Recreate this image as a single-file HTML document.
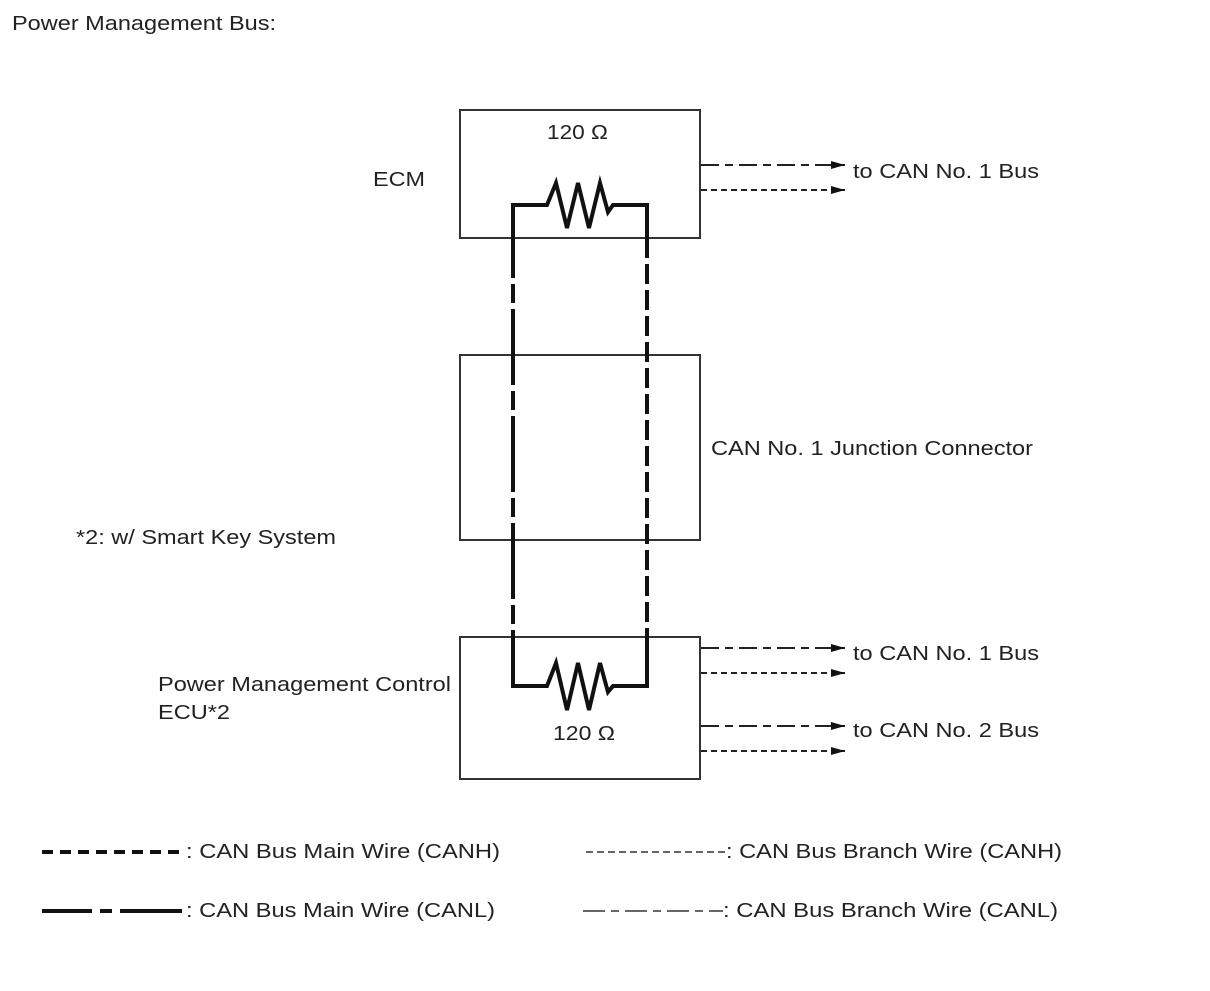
<!DOCTYPE html>
<html><head><style>
body{margin:0;background:#fff;}
svg text{font-family:"Liberation Sans",Arial,sans-serif;font-size:20px;fill:#222;}
</style></head><body>
<svg width="1210" height="986" viewBox="0 0 1210 986" xmlns="http://www.w3.org/2000/svg">
<defs><marker id="a" markerWidth="14" markerHeight="8" refX="14" refY="4" orient="auto" markerUnits="userSpaceOnUse"><path d="M0,0 L14,4 L0,8 Z" fill="#111"/></marker></defs>
<text x="12" y="30" textLength="264" lengthAdjust="spacingAndGlyphs">Power Management Bus:</text>
<g fill="none" stroke="#333" stroke-width="2">
<rect x="460" y="110" width="240" height="128"/>
<rect x="460" y="355" width="240" height="185"/>
<rect x="460" y="637" width="240" height="142"/>
</g>
<text x="547" y="139" textLength="61" lengthAdjust="spacingAndGlyphs">120 Ω</text>
<text x="373" y="186" textLength="52" lengthAdjust="spacingAndGlyphs">ECM</text>
<text x="711" y="455" textLength="322" lengthAdjust="spacingAndGlyphs">CAN No. 1 Junction Connector</text>
<text x="76" y="544" textLength="260" lengthAdjust="spacingAndGlyphs">*2: w/ Smart Key System</text>
<text x="158" y="691" textLength="293" lengthAdjust="spacingAndGlyphs">Power Management Control</text>
<text x="158" y="719" textLength="72" lengthAdjust="spacingAndGlyphs">ECU*2</text>
<text x="553" y="740" textLength="62" lengthAdjust="spacingAndGlyphs">120 Ω</text>
<g fill="none" stroke="#111" stroke-width="4">
<path d="M513,238 V205 H547 L556,183 L567,228 L578,183 L589,228 L600,183 L608,212 L613,205 H647 V238"/>
<path d="M513,637 V686 H547 L556,663 L567,710 L578,663 L589,710 L600,663 L608,692 L613,686 H647 V637"/>
<line x1="513" y1="238" x2="513" y2="637" stroke-dasharray="76 6 19 6" stroke-dashoffset="36"/>
<line x1="647" y1="238" x2="647" y2="637" stroke-dasharray="20 6"/>
</g>
<g stroke="#222" stroke-width="2" fill="none" marker-end="url(#a)">
<line x1="701" y1="165" x2="845" y2="165" stroke-dasharray="18 6 8 6"/>
<line x1="701" y1="190" x2="845" y2="190" stroke-dasharray="6 4"/>
<line x1="701" y1="648" x2="845" y2="648" stroke-dasharray="18 6 8 6"/>
<line x1="701" y1="673" x2="845" y2="673" stroke-dasharray="6 4"/>
<line x1="701" y1="726" x2="845" y2="726" stroke-dasharray="18 6 8 6"/>
<line x1="701" y1="751" x2="845" y2="751" stroke-dasharray="6 4"/>
</g>
<text x="853" y="178" textLength="186" lengthAdjust="spacingAndGlyphs">to CAN No. 1 Bus</text>
<text x="853" y="660" textLength="186" lengthAdjust="spacingAndGlyphs">to CAN No. 1 Bus</text>
<text x="853" y="737" textLength="186" lengthAdjust="spacingAndGlyphs">to CAN No. 2 Bus</text>
<g fill="none" stroke="#111" stroke-width="4">
<line x1="42" y1="852" x2="184" y2="852" stroke-dasharray="11 7"/>
<line x1="42" y1="911" x2="182" y2="911" stroke-dasharray="50 8 12 8 62"/>
</g>
<g fill="none" stroke="#333" stroke-width="1.5">
<line x1="586" y1="852" x2="726" y2="852" stroke-dasharray="7 4"/>
<line x1="583" y1="911" x2="723" y2="911" stroke-dasharray="22 6 8 6"/>
</g>
<text x="186" y="858" textLength="314" lengthAdjust="spacingAndGlyphs">: CAN Bus Main Wire (CANH)</text>
<text x="186" y="917" textLength="309" lengthAdjust="spacingAndGlyphs">: CAN Bus Main Wire (CANL)</text>
<text x="726" y="858" textLength="336" lengthAdjust="spacingAndGlyphs">: CAN Bus Branch Wire (CANH)</text>
<text x="723" y="917" textLength="335" lengthAdjust="spacingAndGlyphs">: CAN Bus Branch Wire (CANL)</text>
</svg>
</body></html>
